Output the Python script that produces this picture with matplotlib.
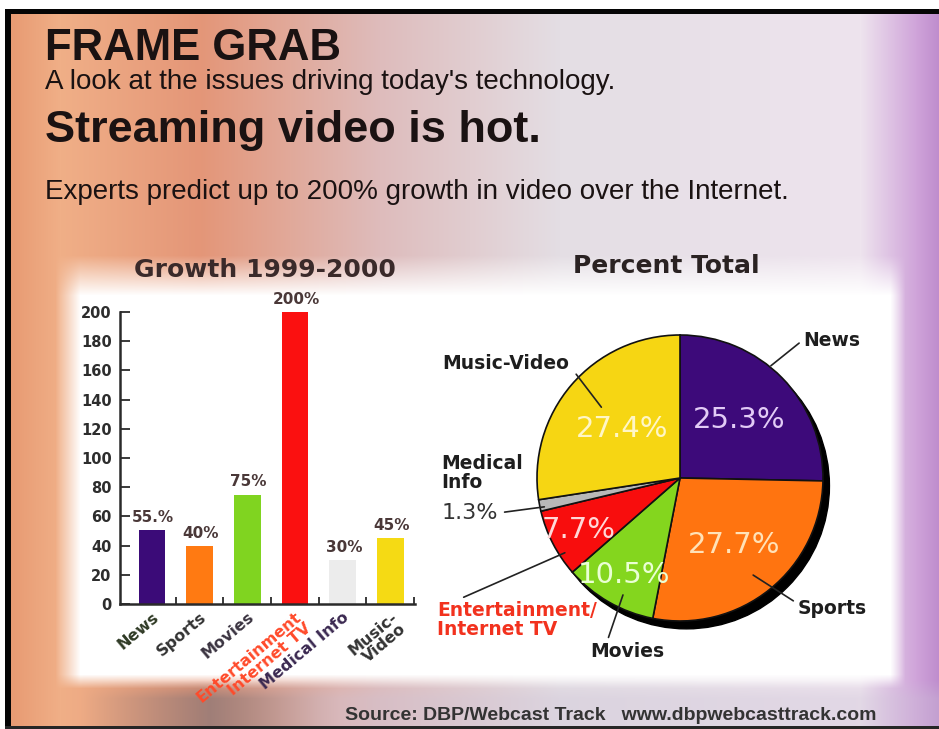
import numpy as np
import matplotlib
matplotlib.use('Agg')
import matplotlib.pyplot as plt
from matplotlib.patches import Circle

# --- data ---
growth_cats = ['News', 'Sports', 'Movies', 'Entertainment\nInternet TV', 'Medical Info', 'Music-\nVideo']
growth_vals = [51, 40, 75, 200, 30, 45]
growth_text = ['55.%', '40%', '75%', '200%', '30%', '45%']
growth_colors = ['#3b0b78', '#ff7a12', '#80d420', '#fb1010', '#ececec', '#f5da14']
growth_label_colors = ['#2f3a25', '#333333', '#3a3340', '#ff4a2a', '#3a2850', '#333333']

share_cats = ['News', 'Sports', 'Movies', 'Entertainment/\nInternet TV', 'Medical\nInfo', 'Music-Video']
share_vals = [25.3, 27.7, 10.5, 7.7, 1.3, 27.4]
share_colors = ['#3d0a7a', '#ff7410', '#84d61e', '#f80d0d', '#b8b8b8', '#f6d613']
share_text_colors = ['#e2cbf6', '#ffe2b8', '#eaffd4', '#ffd8d8', None, '#fff6c6']
share_text_r = [0.58, 0.6, 0.78, 0.8, None, 0.53]

W, H = 939, 729
fig = plt.figure(figsize=(W / 100, H / 100), dpi=100)

# background: warm gradient on the left, purple on the right, white panel in the middle
xs = np.arange(W)
stop_x = [0, 60, 200, 380, 560, 860, 915, 939]
stop_c = np.array([[230, 150, 110], [240, 175, 135], [228, 150, 120], [222, 188, 188],
                   [228, 222, 228], [238, 228, 238], [208, 165, 218], [190, 140, 205]]) / 255
base = np.stack([np.interp(xs, stop_x, stop_c[:, k]) for k in range(3)], axis=-1)
img = np.repeat(base[None, :, :], H, axis=0)
yy, xx = np.mgrid[0:H, 0:W]
mask = (np.clip((xx - 55) / 25, 0, 1) * np.clip((905 - xx) / 15, 0, 1)
        * np.clip((yy - 255) / 40, 0, 1) * np.clip((688 - yy) / 14, 0, 1))
img = img * (1 - mask[..., None]) + mask[..., None]
# blurred strip along the bottom
fade = np.clip((yy - 680) / 18, 0, 1)
dark = np.clip(1 - np.abs(xx - 210) / 130, 0, 1) * fade
img = img * (1 - 0.6 * dark[..., None]) + 0.6 * dark[..., None] * np.array([0.45, 0.43, 0.46])
light = fade * (1 - dark) * np.clip((xx - 230) / 90, 0, 1)
img = img * (1 - 0.35 * light[..., None]) + 0.35 * light[..., None] * np.array([0.80, 0.76, 0.84])
img[:9, :] = 1.0
img[:, :5] = 1.0
img[9:14, 5:] = 0.02
img[9:, 5:11] = 0.02
img[-3:, 5:] = 0.15

bg = fig.add_axes([0, 0, 1, 1])
bg.imshow(np.clip(img, 0, 1), extent=[0, W, H, 0], aspect='auto', interpolation='bilinear')
bg.set_xlim(0, W)
bg.set_ylim(H, 0)
bg.axis('off')

head = '#1a1212'
bg.text(45, 60, 'FRAME GRAB', family='Liberation Sans', fontweight='bold', fontsize=31.5, color=head, va='baseline')
bg.text(45, 89, "A look at the issues driving today's technology.", family='Liberation Sans', fontsize=20, color=head, va='baseline')
bg.text(45, 142, 'Streaming video is hot.', family='Liberation Sans', fontweight='bold', fontsize=32.5, color=head, va='baseline')
bg.text(45, 199, 'Experts predict up to 200% growth in video over the Internet.', family='Liberation Sans', fontsize=20, color=head, va='baseline')
bg.text(265, 277, 'Growth 1999-2000', fontweight='bold', fontsize=18, color='#3a2a2a', ha='center', va='baseline')
bg.text(666, 273, 'Percent Total', fontweight='bold', fontsize=18, color='#2a2222', ha='center', va='baseline')
bg.text(345, 720, 'Source: DBP/Webcast Track   www.dbpwebcasttrack.com', family='Liberation Sans',
        fontweight='bold', fontsize=14, color='#333333', va='baseline')

# --- bar chart ---
ax1 = fig.add_axes([120 / W, (H - 604) / H, (415 - 120) / W, (604 - 312) / H])
ax1.set_facecolor('none')
pos = np.arange(len(growth_vals))
bars = ax1.bar(pos, growth_vals, width=0.56, color=growth_colors)
for b, t in zip(bars, growth_text):
    ax1.annotate(t, (b.get_x() + b.get_width() / 2, b.get_height()), xytext=(1, 9),
                 textcoords='offset points', ha='center', va='center',
                 fontsize=11, fontweight='bold', color='#4a3838')
ax1.set_xlim(-0.67, 5.52)
ax1.set_ylim(0, 200)
ax1.set_yticks(np.arange(0, 201, 20))
ax1.tick_params(axis='y', direction='in', length=7, width=1.3, color='#2a2a2a',
                labelsize=10.5, labelcolor='#2d2d2d', pad=6)
for lab in ax1.get_yticklabels():
    lab.set_fontweight('bold')
ax1.set_xticks(pos)
ax1.set_xticklabels(growth_cats, rotation=40, ha='right', va='top', rotation_mode='anchor',
                    fontsize=11.5, fontweight='bold', linespacing=0.95)
for lab, c in zip(ax1.get_xticklabels(), growth_label_colors):
    lab.set_color(c)
ax1.tick_params(axis='x', length=0, pad=4)
ax1.set_xticks(pos + 0.5, minor=True)
ax1.tick_params(axis='x', which='minor', direction='in', length=5, width=1.3, color='#2a2a2a')
for s in ['top', 'right']:
    ax1.spines[s].set_visible(False)
for s in ['left', 'bottom']:
    ax1.spines[s].set_linewidth(1.8)
    ax1.spines[s].set_color('#2a2a2a')

# --- pie chart ---
R = 143
ax2 = fig.add_axes([(680 - R) / W, (H - 478 - R) / H, 2 * R / W, 2 * R / H])
ax2.add_patch(Circle((0.045, -0.055), 1.0, color='black', zorder=0, clip_on=False))
wedges, _ = ax2.pie(share_vals, colors=share_colors, startangle=90, counterclock=False,
                    radius=1.0, wedgeprops=dict(edgecolor='#111111', linewidth=1.2))
for w, c, r, v in zip(wedges, share_text_colors, share_text_r, share_vals):
    if c is None:
        continue
    a = np.radians((w.theta1 + w.theta2) / 2)
    ax2.text(r * np.cos(a), r * np.sin(a), f'{v}%', color=c, fontsize=21,
             ha='center', va='center')
ax2.set_xlim(-1, 1)
ax2.set_ylim(-1, 1)
ax2.axis('off')


def edge(angle, r):
    a = np.radians(angle)
    return (r * np.cos(a), r * np.sin(a))


line = dict(arrowstyle='-', color='#222222', lw=1.2, shrinkA=1, shrinkB=0)
lab = dict(fontsize=13.5, fontweight='bold', color='#1e1e1e', annotation_clip=False)
ax2.annotate(share_cats[0], edge(51, 1.01), xytext=(0.86, 0.965), ha='left', va='center',
             arrowprops=dict(line, relpos=(0, 0.5)), **lab)
ax2.annotate(share_cats[1], edge(-53, 0.85), xytext=(0.82, -0.91), ha='left', va='center',
             arrowprops=dict(line, relpos=(0, 0.75)), **lab)
ax2.annotate(share_cats[2], edge(-116, 0.91), xytext=(-0.37, -1.21), ha='center', va='center',
             arrowprops=dict(line, relpos=(0.23, 1.0)), **lab)
ax2.annotate(share_cats[3], edge(-147, 0.96), xytext=(-1.70, -0.99), ha='left', va='center',
             arrowprops=dict(line, relpos=(0.12, 1.0)), linespacing=1.0,
             **dict(lab, color='#f2321e'))
ax2.text(-1.67, 0.035, share_cats[4], ha='left', va='center', fontsize=13.5, fontweight='bold',
         color='#1e1e1e', linespacing=1.0)
ax2.annotate(f'{share_vals[4]}%', edge(-168, 0.97), xytext=(-1.67, -0.245), ha='left', va='center',
             arrowprops=dict(line, relpos=(1, 0.5), shrinkA=3), fontsize=16, color='#333333',
             annotation_clip=False)
ax2.annotate(share_cats[5], edge(138, 0.74), xytext=(-1.22, 0.80), ha='center', va='center',
             arrowprops=dict(line, relpos=(1.05, 0.0)), **lab)

fig.savefig('out.png', dpi=100)
